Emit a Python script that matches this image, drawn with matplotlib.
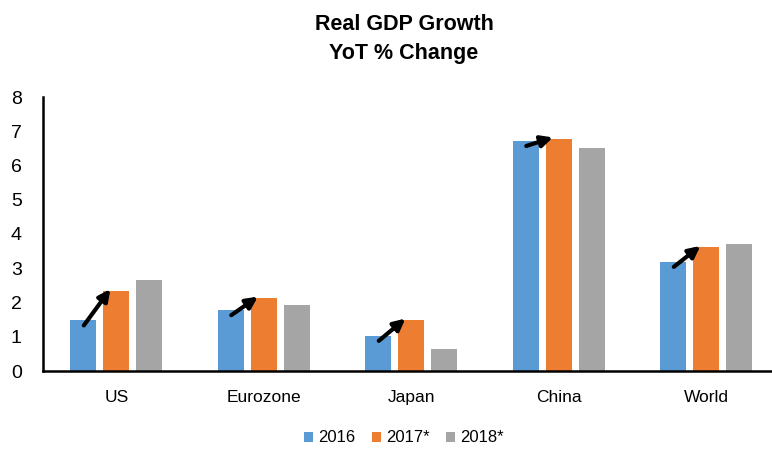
import matplotlib
matplotlib.use("Agg")
import matplotlib.pyplot as plt
import numpy as np

plt.rcParams['font.family'] = ['Liberation Sans', 'DejaVu Sans']

# данные
regions = ['US', 'Eurozone', 'Japan', 'China', 'World']
series = ['2016', '2017*', '2018*']
v2016 = [1.48, 1.78, 1.03, 6.72, 3.19]
v2017 = [2.35, 2.13, 1.49, 6.78, 3.61]
v2018 = [2.66, 1.94, 0.65, 6.50, 3.70]
colors = ['#5B9BD5', '#ED7D31', '#A5A5A5']

fig = plt.figure(figsize=(7.72, 4.5), dpi=100)
ax = fig.add_axes([42.5 / 772, 79 / 450, 737.5 / 772, 274 / 450])

x = np.arange(len(regions))
w = 0.176
off = 0.223
for k, vals in enumerate([v2016, v2017, v2018]):
    ax.bar(x + (k - 1) * off, vals, w, color=colors[k], label=series[k], zorder=2)

# стрелки от 2016 к 2017
for i in range(len(regions)):
    ax.annotate('', xy=(x[i] - 0.04, v2017[i] + 0.04),
                xytext=(x[i] - 0.22, v2016[i] - 0.15),
                arrowprops=dict(arrowstyle='-|>', color='black', lw=3,
                                mutation_scale=17, shrinkA=0, shrinkB=0),
                zorder=3)

ax.set_xlim(-0.5, len(regions) - 0.5)
ax.set_ylim(0, 8)
ax.set_yticks(range(0, 9))
ax.set_xticks(x)
ax.set_xticklabels(regions)
ax.tick_params(axis='both', length=0)
ax.tick_params(axis='y', pad=15, labelsize=14)
ax.tick_params(axis='x', pad=14, labelsize=12.5)
for s in ['top', 'right']:
    ax.spines[s].set_visible(False)
for s in ['left', 'bottom']:
    ax.spines[s].set_linewidth(1.8)
    ax.spines[s].set_color('black')

fig.text(404 / 772, 1 - 39 / 450, 'Real GDP Growth\nYoT % Change', ha='center', va='center',
         fontsize=15.5, fontweight='bold', linespacing=1.55)

fig.legend(loc='center', bbox_to_anchor=(404 / 772, 1 - 438 / 450), ncol=3, frameon=False,
           fontsize=12, handlelength=0.55, handleheight=0.55, handletextpad=0.3, columnspacing=1.0)

fig.savefig('out.png', dpi=100)
